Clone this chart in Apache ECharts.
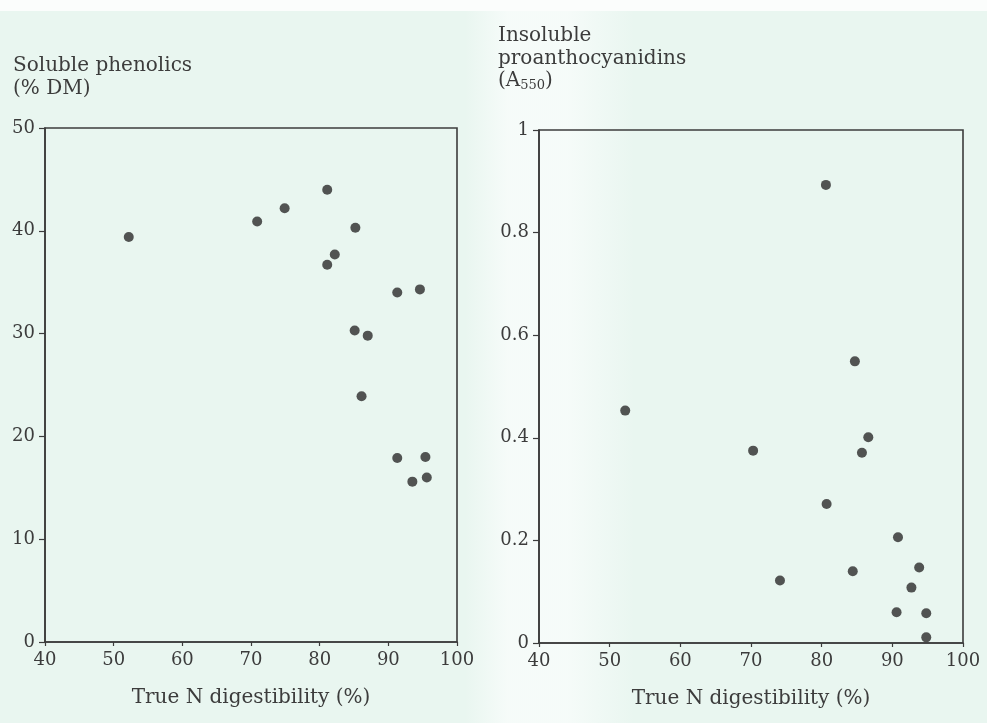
<!DOCTYPE html>
<html>
<head>
<meta charset="utf-8">
<script src="https://cdn.jsdelivr.net/npm/echarts@6/dist/echarts.min.js"></script>
<style>
  html, body { margin: 0; padding: 0; background: #fff; }
  #chart { width: 987px; height: 723px; }
</style>
</head>
<body>
<div id="chart"></div>
<script>
// x ticks shared by both panels
const xTicks = [40, 50, 60, 70, 80, 90, 100];
const xName = "True N digestibility (%)";

// left panel: soluble phenolics (% DM)
const phenX = [52.2, 70.9, 74.9, 81.1, 85.2, 82.2, 81.1, 91.3, 94.6, 85.1, 87.0, 86.1, 91.3, 95.4, 93.5, 95.6];
const phenY = [39.4, 40.9, 42.2, 44.0, 40.3, 37.7, 36.7, 34.0, 34.3, 30.3, 29.8, 23.9, 17.9, 18.0, 15.6, 16.0];

// right panel: insoluble proanthocyanidins (A550)
const proX = [80.6, 84.7, 52.2, 86.6, 70.3, 85.7, 80.7, 90.8, 74.1, 84.4, 93.8, 92.7, 90.6, 94.8, 94.8];
const proY = [0.893, 0.549, 0.453, 0.401, 0.375, 0.371, 0.271, 0.206, 0.122, 0.140, 0.147, 0.108, 0.060, 0.058, 0.011];

const font = "DejaVu Serif";
const ink = "#3c3c3c";

const pairs = (xs, ys) => xs.map((x, i) => [x, ys[i]]);

const chart = echarts.init(document.getElementById("chart"));

function xAxisOf(idx) {
  return {
    gridIndex: idx,
    type: "value",
    min: xTicks[0], max: xTicks[xTicks.length - 1], interval: 10,
    name: xName,
    nameLocation: "middle",
    nameGap: 46,
    nameTextStyle: { fontFamily: font, fontSize: 20, color: ink },
    axisLine: { show: true, onZero: false, lineStyle: { color: ink, width: 1.6 } },
    axisTick: { show: true, length: 4, lineStyle: { color: ink, width: 1.2 } },
    axisLabel: { fontFamily: font, fontSize: 18, color: ink, margin: 9 },
    splitLine: { show: false }
  };
}

function yAxisOf(idx, max, interval) {
  return {
    gridIndex: idx,
    type: "value",
    min: 0, max: max, interval: interval,
    axisLine: { show: true, lineStyle: { color: ink, width: 1.6 } },
    axisTick: { show: true, length: 6, lineStyle: { color: ink, width: 1.2 } },
    axisLabel: { fontFamily: font, fontSize: 18, color: ink, margin: 10 },
    splitLine: { show: false }
  };
}

const option = {
  backgroundColor: "#e9f6f0",
  animation: false,
  graphic: [
    { type: "rect", left: 0, top: 0, shape: { width: 987, height: 11 }, style: { fill: "#fbfdfc" }, z: -1 },
    {
      // paler strip of the scan, left side of the right panel
      type: "rect", left: 465, top: 11, shape: { width: 170, height: 712 }, z: -1,
      style: {
        fill: new echarts.graphic.LinearGradient(0, 0, 1, 0, [
          { offset: 0, color: "rgba(250,253,252,0)" },
          { offset: 0.25, color: "rgba(250,253,252,0.75)" },
          { offset: 0.6, color: "rgba(250,253,252,0.75)" },
          { offset: 1, color: "rgba(250,253,252,0)" }
        ])
      }
    }
  ],
  title: [
    {
      text: "Soluble phenolics\n(% DM)",
      left: 13, top: 55, padding: 0,
      textStyle: { fontFamily: font, fontSize: 20, fontWeight: "normal", color: ink, lineHeight: 22.5 }
    },
    {
      text: "Insoluble\nproanthocyanidins\n(A{s|550})",
      left: 498, top: 25, padding: 0,
      textStyle: {
        fontFamily: font, fontSize: 20, fontWeight: "normal", color: ink, lineHeight: 22.5,
        rich: { s: { fontFamily: font, fontSize: 13, color: ink, padding: [9, 0, 0, 0] } }
      }
    }
  ],
  grid: [
    { left: 45, top: 128, width: 412, height: 514, show: true, borderColor: ink, borderWidth: 1.6, backgroundColor: "transparent" },
    { left: 539, top: 130, width: 424, height: 513, show: true, borderColor: ink, borderWidth: 1.6, backgroundColor: "transparent" }
  ],
  xAxis: [xAxisOf(0), xAxisOf(1)],
  yAxis: [yAxisOf(0, 50, 10), yAxisOf(1, 1, 0.2)],
  series: [
    {
      type: "scatter", xAxisIndex: 0, yAxisIndex: 0,
      data: pairs(phenX, phenY),
      symbolSize: 10,
      itemStyle: { color: "#2b2b2b" }
    },
    {
      type: "scatter", xAxisIndex: 1, yAxisIndex: 1,
      data: pairs(proX, proY),
      symbolSize: 10,
      itemStyle: { color: "#2b2b2b" }
    }
  ]
};

chart.setOption(option);
</script>
</body>
</html>
